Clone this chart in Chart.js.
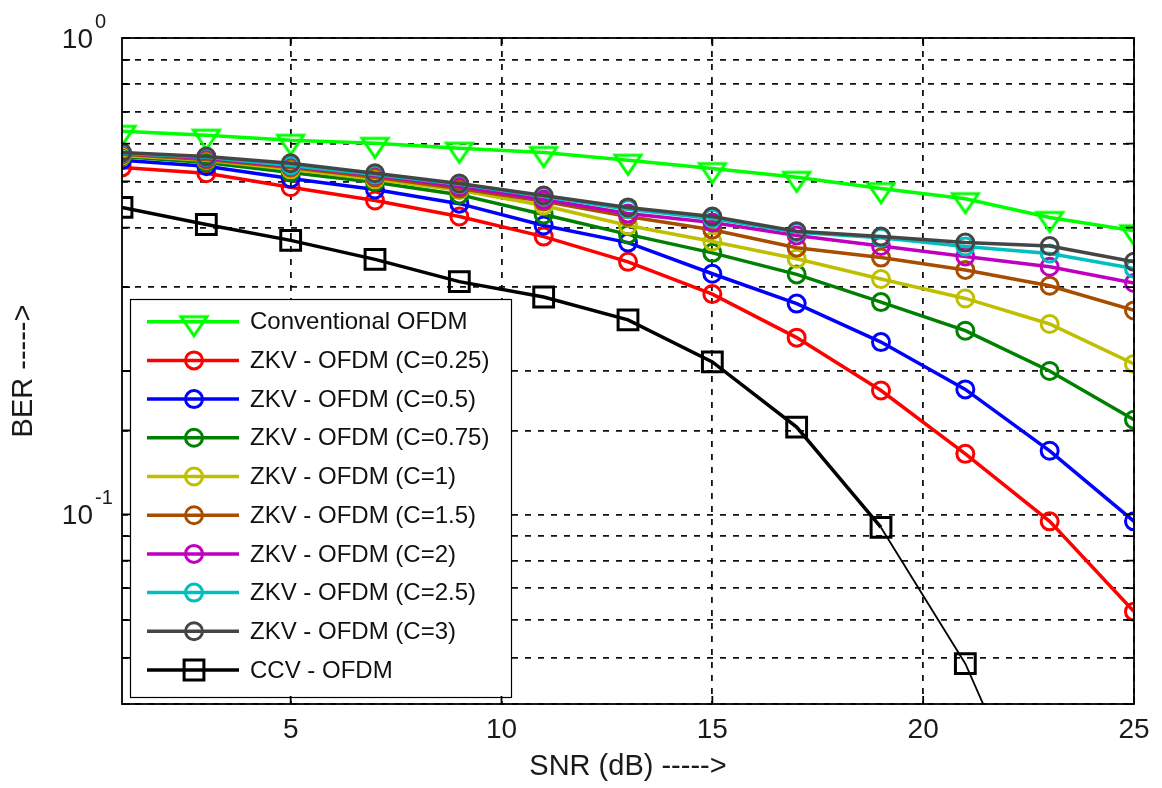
<!DOCTYPE html>
<html>
<head>
<meta charset="utf-8">
<title>BER vs SNR</title>
<script src="https://cdn.jsdelivr.net/npm/chart.js@4.4.0/dist/chart.umd.min.js"></script>
<style>
  html, body { margin: 0; padding: 0; background: #fff; }
  #wrap { width: 1162px; height: 788px; }
</style>
</head>
<body>
<div id="wrap"><canvas id="berChart" width="1162" height="788"></canvas></div>
<script>
// x values (SNR in dB)
const snr = [1, 3, 5, 7, 9, 11, 13, 15, 17, 19, 21, 23, 25];
const xTicks = [5, 10, 15, 20, 25];
const yTickValues = [1, 0.1];
const yTickExps = ["0", "-1"];

// BER
const conventional = [0.637, 0.625, 0.610, 0.601, 0.587, 0.575, 0.554, 0.532, 0.510, 0.483, 0.460, 0.420, 0.394];
const zkv025 = [0.535, 0.520, 0.486, 0.456, 0.422, 0.383, 0.339, 0.290, 0.235, 0.182, 0.134, 0.0967, 0.0625];
const zkv05 = [0.554, 0.538, 0.507, 0.481, 0.449, 0.404, 0.372, 0.320, 0.277, 0.230, 0.183, 0.136, 0.0967];
const zkv075 = [0.564, 0.548, 0.522, 0.498, 0.469, 0.426, 0.387, 0.354, 0.319, 0.279, 0.243, 0.200, 0.158];
const zkv1 = [0.567, 0.554, 0.530, 0.505, 0.479, 0.445, 0.404, 0.374, 0.344, 0.312, 0.284, 0.251, 0.207];
const zkv15 = [0.570, 0.556, 0.535, 0.510, 0.483, 0.454, 0.422, 0.396, 0.363, 0.346, 0.326, 0.302, 0.268];
const zkv2 = [0.573, 0.559, 0.538, 0.515, 0.488, 0.458, 0.428, 0.410, 0.385, 0.366, 0.348, 0.331, 0.306];
const zkv25 = [0.573, 0.562, 0.540, 0.517, 0.493, 0.465, 0.437, 0.418, 0.391, 0.381, 0.365, 0.353, 0.328];
const zkv3 = [0.575, 0.564, 0.546, 0.520, 0.495, 0.467, 0.441, 0.422, 0.393, 0.383, 0.372, 0.366, 0.339];
const ccv = [0.441, 0.406, 0.376, 0.343, 0.308, 0.286, 0.256, 0.209, 0.1525, 0.0939, 0.0486, 0.0193, 0.0075];

const seriesNames = [
  "Conventional OFDM",
  "ZKV - OFDM (C=0.25)",
  "ZKV - OFDM (C=0.5)",
  "ZKV - OFDM (C=0.75)",
  "ZKV - OFDM (C=1)",
  "ZKV - OFDM (C=1.5)",
  "ZKV - OFDM (C=2)",
  "ZKV - OFDM (C=2.5)",
  "ZKV - OFDM (C=3)",
  "CCV - OFDM",
];
const seriesValues = [conventional, zkv025, zkv05, zkv075, zkv1, zkv15, zkv2, zkv25, zkv3, ccv];
const seriesColors = ["#00ff00", "#ff0000", "#0000ff", "#008000", "#bfbf00", "#a64d00", "#bf00bf", "#00bfbf", "#454545", "#000000"];
const seriesMarkers = ["triangle", "circle", "circle", "circle", "circle", "circle", "circle", "circle", "circle", "rect"];

const FONT = '"Liberation Sans", Arial, sans-serif';
Chart.defaults.font.family = FONT;
Chart.defaults.color = "#1a1a1a";

// flat downward triangle like the matlab marker
function triangleMarker(color) {
  const c = document.createElement("canvas");
  c.width = 34;
  c.height = 40;
  const g = c.getContext("2d");
  g.strokeStyle = color;
  g.lineWidth = 3;
  g.beginPath();
  g.moveTo(4, 15);
  g.lineTo(30, 15);
  g.lineTo(17, 34);
  g.closePath();
  g.stroke();
  return c;
}

function markerFor(kind, color) {
  if (kind === "triangle") return triangleMarker(color);
  return kind;
}

let datasets = [];
for (let i = 0; i < seriesNames.length; i++) {
  let kind = seriesMarkers[i];
  datasets.push({
    label: seriesNames[i],
    data: snr.map((s, j) => ({ x: s, y: seriesValues[i][j] })),
    borderColor: seriesColors[i],
    backgroundColor: seriesColors[i],
    borderWidth: 3.5,
    pointStyle: markerFor(kind, seriesColors[i]),
    pointRadius: kind === "rect" ? 14 : 8.5,
    pointBorderWidth: 3,
    pointBackgroundColor: "rgba(0,0,0,0)",
    pointBorderColor: seriesColors[i],
    tension: 0,
    order: seriesNames.length - i,
    // the ccv line gets thin after x = 19
    segment: i === seriesNames.length - 1 ? { borderWidth: (ctx) => (ctx.p0DataIndex >= 9 ? 1.8 : 3.5) } : undefined,
  });
}

function drawLegendMarker(ctx, style, x, y, color, radius) {
  if (style instanceof HTMLCanvasElement) {
    ctx.drawImage(style, x - style.width / 2, y - style.height / 2);
    return;
  }
  ctx.save();
  ctx.strokeStyle = color;
  ctx.lineWidth = 3;
  ctx.beginPath();
  if (style === "rect") {
    let s = radius * Math.SQRT1_2;
    ctx.rect(x - s, y - s, 2 * s, 2 * s);
  } else {
    ctx.arc(x, y, radius, 0, Math.PI * 2);
  }
  ctx.stroke();
  ctx.restore();
}

const legendBox = {
  id: "legendBox",
  afterDatasetsDraw(chart) {
    const ctx = chart.ctx;
    const a = chart.chartArea;
    const left = a.left + 8;
    const top = 299;
    const width = 381;
    const bottom = a.bottom - 7;
    ctx.save();
    ctx.fillStyle = "#fff";
    ctx.fillRect(left, top, width, bottom - top);
    ctx.strokeStyle = "#000";
    ctx.lineWidth = 1.2;
    ctx.strokeRect(left + 0.5, top + 0.5, width, bottom - top);
    const rowH = 38.7;
    chart.data.datasets.forEach((ds, i) => {
      let yy = top + 22.7 + i * rowH;
      ctx.strokeStyle = ds.borderColor;
      ctx.lineWidth = 3.5;
      ctx.beginPath();
      ctx.moveTo(left + 17, yy);
      ctx.lineTo(left + 109, yy);
      ctx.stroke();
      drawLegendMarker(ctx, ds.pointStyle, left + 64, yy, ds.borderColor, ds.pointRadius);
      ctx.fillStyle = "#111";
      ctx.font = "24px " + FONT;
      ctx.textAlign = "left";
      ctx.textBaseline = "middle";
      ctx.fillText(ds.label, left + 120, yy + 1);
    });
    ctx.restore();
  },
};

const frame = {
  id: "frame",
  afterDraw(chart) {
    const ctx = chart.ctx;
    const a = chart.chartArea;
    const x = chart.scales.x;
    const y = chart.scales.y;
    ctx.save();
    ctx.strokeStyle = "#000";
    ctx.lineWidth = 1.8;
    ctx.strokeRect(a.left, a.top, a.right - a.left, a.bottom - a.top);
    // small inner ticks like matlab
    ctx.beginPath();
    y.ticks.forEach((t) => {
      let py = y.getPixelForValue(t.value);
      ctx.moveTo(a.left, py);
      ctx.lineTo(a.left + 8, py);
      ctx.moveTo(a.right, py);
      ctx.lineTo(a.right - 8, py);
    });
    x.ticks.forEach((t) => {
      let px = x.getPixelForValue(t.value);
      ctx.moveTo(px, a.bottom);
      ctx.lineTo(px, a.bottom - 8);
      ctx.moveTo(px, a.top);
      ctx.lineTo(px, a.top + 8);
    });
    ctx.stroke();
    // y tick labels with exponent
    ctx.fillStyle = "#1a1a1a";
    for (let i = 0; i < yTickValues.length; i++) {
      let py = y.getPixelForValue(yTickValues[i]);
      ctx.font = "28px " + FONT;
      ctx.textAlign = "right";
      ctx.textBaseline = "alphabetic";
      ctx.fillText("10", a.left - 29, py + 10);
      ctx.font = "20px " + FONT;
      ctx.textAlign = "left";
      ctx.fillText(yTickExps[i], a.left - 27, py - 10);
    }
    ctx.restore();
  },
};

new Chart(document.getElementById("berChart"), {
  type: "line",
  data: { datasets: datasets },
  plugins: [legendBox, frame],
  options: {
    responsive: false,
    animation: false,
    devicePixelRatio: 1,
    layout: { padding: { left: 0, top: 38, right: 28, bottom: 0 } },
    plugins: { legend: { display: false }, tooltip: { enabled: false } },
    scales: {
      x: {
        type: "linear",
        min: 1,
        max: 25,
        afterBuildTicks: (scale) => {
          scale.ticks = xTicks.map((v) => ({ value: v }));
        },
        afterFit: (scale) => {
          scale.height = 84;
        },
        grid: { color: "#111", lineWidth: 1.8, drawTicks: false },
        border: { display: false, dash: [6, 7] },
        ticks: { font: { size: 28 }, padding: 9, color: "#1a1a1a", maxRotation: 0 },
        title: { display: true, text: "SNR (dB) ----->", font: { size: 29 }, color: "#1a1a1a", padding: { top: 0, bottom: 4 } },
      },
      y: {
        type: "logarithmic",
        min: 0.04,
        max: 1,
        afterFit: (scale) => {
          scale.width = 122;
        },
        grid: { color: "#111", lineWidth: 1.8, drawTicks: false },
        border: { display: false, dash: [6, 7] },
        ticks: { display: false },
        title: { display: true, text: "BER ----->", font: { size: 29 }, color: "#1a1a1a", padding: { top: 7, bottom: 0 } },
      },
    },
  },
});
</script>
</body>
</html>
